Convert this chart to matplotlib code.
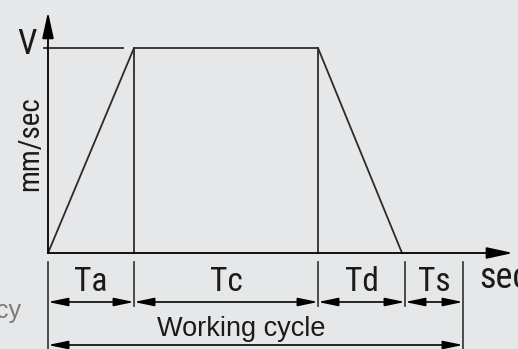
import matplotlib
matplotlib.use("Agg")
import matplotlib.pyplot as plt

# ---- data (arbitrary time units) ----
segments = ["Ta", "Tc", "Td", "Ts"]
durations = [86, 184, 87, 58]
V = 1.0
speed_label = "V"
y_label = "mm/sec"
x_label = "sec"
cycle_label = "Working cycle"
side_label = "cy"

BG = "#e6e7e9"
INK = "#2b2b2b"
NARROW = ["Liberation Sans Narrow", "Roboto Condensed", "Archivo Narrow", "DejaVu Sans"]
REG = ["Liberation Sans", "DejaVu Sans"]

fig = plt.figure(figsize=(5.18, 3.49), dpi=100, facecolor=BG)
ax = fig.add_axes([0, 0, 1, 1])
ax.set_facecolor(BG)
ax.set_xlim(-48, 470)
ax.set_ylim(-96 / 205, 1 + 48 / 205)
ax.axis("off")

# time boundaries
bounds = [0]
for d in durations:
    bounds.append(bounds[-1] + d)
t_a, t_c, t_d, t_s = bounds[1], bounds[2], bounds[3], bounds[4]

lw = 1.3
# velocity profile
ax.plot([0, t_a, t_c, t_d - 3], [0, V, V, 0], color=INK, lw=lw, solid_joinstyle="miter")
ax.plot([t_a, t_a], [0, V], color=INK, lw=lw)
ax.plot([t_c, t_c], [0, V], color=INK, lw=lw)
# V reference line
ax.plot([-4, t_a - 11], [V, V], color=INK, lw=lw)

# axes with arrows
ax.annotate("", xy=(0, 1.176), xytext=(0, 0), xycoords="data",
            arrowprops=dict(arrowstyle="-|>,head_length=1.6,head_width=0.35",
                            color="black", lw=lw, shrinkA=0, shrinkB=0))
ax.annotate("", xy=(465, 0), xytext=(0, 0),
            arrowprops=dict(arrowstyle="-|>,head_length=1.6,head_width=0.35",
                            color="black", lw=lw, shrinkA=0, shrinkB=0))

# dimension ticks
tick_top = -9 / 205
tick_bot = -53 / 205
long_bot = -96 / 205
for i, b in enumerate(bounds):
    bot = long_bot if i in (0, len(bounds) - 1) else tick_bot
    ax.plot([b, b], [tick_top, bot], color=INK, lw=lw * 0.9)

dim_y = -49 / 205
lab_y = -29 / 205
txt_kw = dict(family=NARROW, fontstretch="condensed", color="#1a1a1a")
for name, a, b in zip(segments, bounds[:-1], bounds[1:]):
    ax.annotate("", xy=(b, dim_y), xytext=(a, dim_y),
                arrowprops=dict(arrowstyle="<|-|>,head_length=1.2,head_width=0.25",
                                color="black", lw=lw * 0.9, shrinkA=0, shrinkB=0))
    ax.text((a + b) / 2, lab_y, name, ha="center", va="center", fontsize=24, **txt_kw)

cyc_y = -92 / 205
ax.annotate("", xy=(t_s, cyc_y), xytext=(0, cyc_y),
            arrowprops=dict(arrowstyle="<|-|>,head_length=1.2,head_width=0.25",
                            color="black", lw=lw * 0.9, shrinkA=0, shrinkB=0))
ax.text(t_s / 2 - 14, -76 / 205, cycle_label, ha="center", va="center",
        fontsize=19.5, family=REG, color="#1a1a1a")

# labels
ax.text(-21, 1.0 + 3 / 205, speed_label, ha="center", va="center", fontsize=25, **txt_kw)
ax.text(-18, 109 / 205, y_label, ha="center", va="center", rotation=90,
        fontsize=21, **txt_kw)
ax.text(431, -25 / 205, x_label, ha="left", va="center", fontsize=26, **txt_kw)
ax.text(-27, -58 / 205, side_label, ha="right", va="center",
        fontsize=18, family=REG, color="#7a7a7a")

fig.savefig("out.png", dpi=100, facecolor=BG)
